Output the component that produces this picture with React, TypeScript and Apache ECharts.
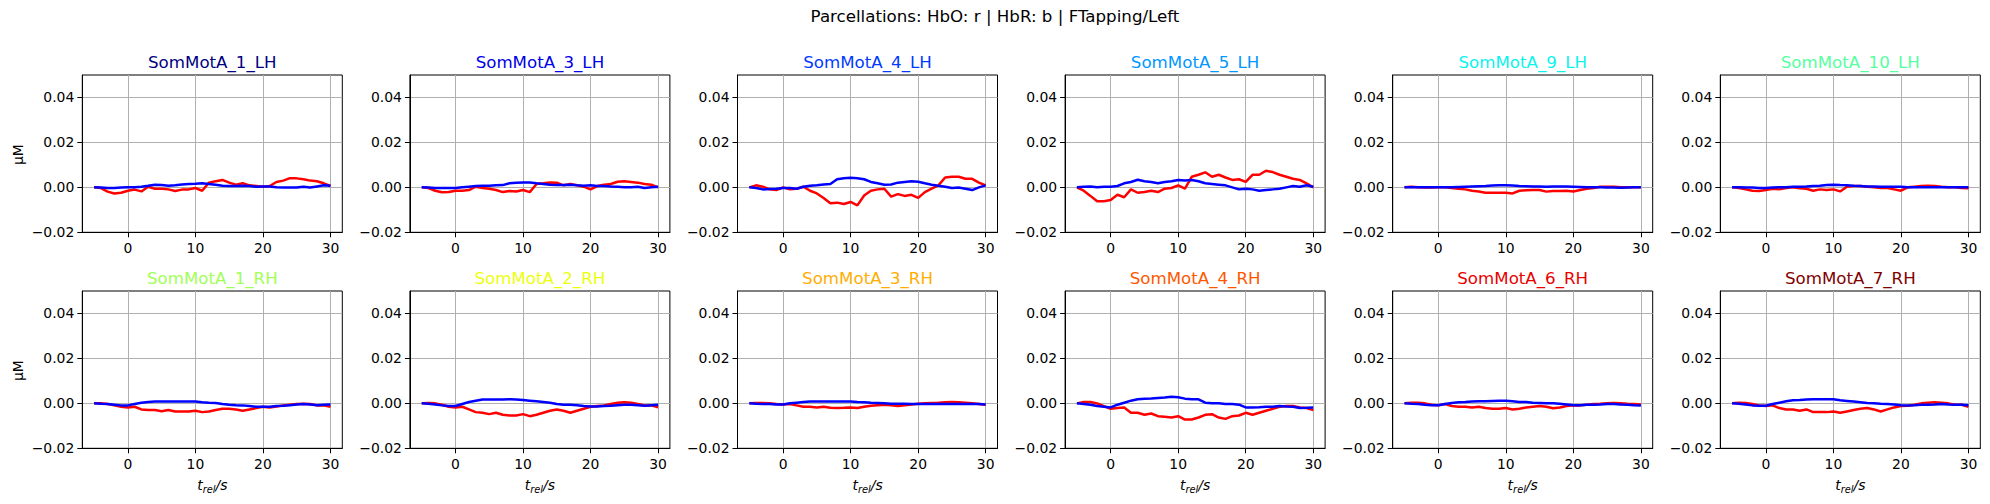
import React, { useEffect, useRef } from 'react';
import * as echarts from 'echarts';

// ---------------- data ----------------
const SUPTITLE = 'Parcellations: HbO: r | HbR: b | FTapping/Left';
const PANEL_NAMES = [
  'SomMotA_1_LH', 'SomMotA_3_LH', 'SomMotA_4_LH', 'SomMotA_5_LH', 'SomMotA_9_LH', 'SomMotA_10_LH',
  'SomMotA_1_RH', 'SomMotA_2_RH', 'SomMotA_3_RH', 'SomMotA_4_RH', 'SomMotA_6_RH', 'SomMotA_7_RH',
];
const PANEL_COLORS = [
  '#000080', '#0000e9', '#003aff', '#0097ff', '#0bf3ec', '#56ffa1',
  '#a1ff56', '#ecff0b', '#ffad00', '#ff5700', '#e90100', '#800000',
];
const TIME = [-5, -4, -3, -2, -1, 0, 1, 2, 3, 4, 5, 6, 7, 8, 9, 10, 11, 12, 13, 14, 15, 16, 17, 18, 19, 20, 21, 22, 23, 24, 25, 26, 27, 28, 29, 30];
const X_TICKS = [0, 10, 20, 30];
const Y_TICKS = [-0.02, 0, 0.02, 0.04];
const Y_LABEL = 'μM';

// HbO (red) and HbR (blue), in μM
const HBO_LH1 = [0, -0.0003, -0.0019, -0.0027, -0.0024, -0.0015, -0.001, -0.0018, 0.0003, -0.0006, -0.0006, -0.0009, -0.0016, -0.001, -0.0009, -0.0003, -0.0015, 0.0021, 0.0027, 0.0033, 0.0021, 0.0012, 0.0018, 0.0009, 0.0006, 0.0003, 0.0006, 0.0024, 0.003, 0.0041, 0.004, 0.0036, 0.003, 0.0027, 0.0018, 0.0006];
const HBR_LH1 = [0, -0.0001, -0.0003, -0.0003, -0.0001, 0, 0.0001, 0.0003, 0.0007, 0.0012, 0.001, 0.0007, 0.0009, 0.0013, 0.0015, 0.0016, 0.0018, 0.0015, 0.0012, 0.0007, 0.0006, 0.0006, 0.0007, 0.0006, 0.0003, 0.0004, 0.0004, 0, -0.0001, -0.0001, -0.0001, 0.0003, -0.0001, 0.0004, 0.0009, 0.0007];
const HBO_LH3 = [0, -0.0003, -0.0015, -0.0022, -0.0021, -0.0015, -0.0015, -0.0012, 0.0003, -0.0003, -0.0006, -0.0012, -0.0021, -0.0016, -0.0018, -0.0012, -0.0021, 0.0015, 0.0018, 0.0022, 0.0021, 0.0009, 0.0015, 0.0009, 0.0003, -0.0009, 0.0006, 0.0012, 0.0015, 0.0025, 0.0027, 0.0024, 0.0021, 0.0015, 0.0012, 0];
const HBR_LH3 = [0, -0.0001, -0.0003, -0.0003, -0.0003, -0.0003, 0, 0.0003, 0.0006, 0.0007, 0.0007, 0.0009, 0.001, 0.0018, 0.0021, 0.0022, 0.0022, 0.0018, 0.0015, 0.0012, 0.001, 0.001, 0.0012, 0.0009, 0.0007, 0.0009, 0.0006, 0.0006, 0.0004, 0.0003, 0.0001, 0.0001, 0.0003, -0.0003, 0, 0.0003];
const HBO_LH4 = [0, 0.0009, 0.0003, -0.0009, -0.0012, 0, -0.0009, -0.0006, 0.0003, -0.0015, -0.0027, -0.0047, -0.0071, -0.0068, -0.0074, -0.0065, -0.008, -0.0036, -0.0015, -0.0009, -0.0006, -0.0041, -0.003, -0.0038, -0.0033, -0.0047, -0.0021, -0.0006, 0.0009, 0.0044, 0.0047, 0.0047, 0.0038, 0.0038, 0.0021, 0.0009];
const HBR_LH4 = [0, -0.0003, -0.0009, -0.0007, -0.0006, -0.0003, -0.0003, -0.0006, 0.0003, 0.0007, 0.0009, 0.0013, 0.0015, 0.0036, 0.0041, 0.0043, 0.0041, 0.0036, 0.0024, 0.0018, 0.0012, 0.0013, 0.0021, 0.0024, 0.0027, 0.0025, 0.0018, 0.0012, 0.0007, 0.0003, -0.0003, -0.0001, -0.0006, -0.0012, 0, 0.0009];
const HBO_LH5 = [0, -0.0015, -0.0038, -0.0062, -0.0062, -0.0056, -0.0033, -0.0044, -0.0009, -0.0024, -0.0021, -0.0015, -0.0021, -0.0006, -0.0003, 0.0009, -0.0006, 0.0047, 0.0056, 0.0067, 0.0047, 0.0056, 0.0044, 0.0033, 0.0036, 0.0024, 0.0056, 0.0056, 0.0074, 0.0068, 0.0056, 0.0047, 0.0038, 0.0033, 0.0018, 0];
const HBR_LH5 = [0, 0.0003, 0.0004, 0.0001, 0.0003, 0.0003, 0.0006, 0.0018, 0.0024, 0.0034, 0.0027, 0.0024, 0.0018, 0.0024, 0.0027, 0.0033, 0.003, 0.0033, 0.0027, 0.0018, 0.0015, 0.0012, 0.0009, 0, -0.0009, -0.0006, -0.0009, -0.0015, -0.0012, -0.0009, -0.0006, 0, 0.0006, 0.0003, 0.0009, 0.0003];
const HBO_LH9 = [0, 0.0003, 0, -0.0001, -0.0001, 0, 0, -0.0003, -0.0006, -0.0009, -0.0015, -0.0018, -0.0024, -0.0024, -0.0024, -0.0024, -0.0027, -0.0015, -0.0013, -0.0012, -0.0012, -0.0019, -0.0016, -0.0016, -0.0015, -0.0018, -0.0012, -0.0006, -0.0003, 0.0003, 0.0003, 0.0003, 0, 0, 0, 0];
const HBR_LH9 = [0, 0, 0, 0, 0, 0, 0.0001, 0.0001, 0.0002, 0.0003, 0.0004, 0.0005, 0.0006, 0.0008, 0.0009, 0.0009, 0.0008, 0.0006, 0.0005, 0.0004, 0.0004, 0.0003, 0.0004, 0.0004, 0.0004, 0.0003, 0.0002, 0.0001, 0, 0, -0.0001, -0.0001, -0.0002, -0.0001, 0, 0];
const HBO_LH10 = [0, -0.0003, -0.0009, -0.0015, -0.0016, -0.0012, -0.0006, -0.0009, -0.0003, 0, -0.0004, -0.0006, -0.0015, -0.0009, -0.0012, -0.0009, -0.0018, 0.0003, 0.0006, 0.0006, 0.0003, 0, -0.0003, -0.0003, -0.0009, -0.0015, 0, 0.0003, 0.0006, 0.0007, 0.0006, 0.0003, 0.0001, 0, -0.0003, -0.0004];
const HBR_LH10 = [0, 0, -0.0001, -0.0001, -0.0003, -0.0003, -0.0001, 0, 0.0001, 0.0003, 0.0003, 0.0004, 0.0006, 0.0007, 0.001, 0.0012, 0.001, 0.0009, 0.0007, 0.0006, 0.0004, 0.0004, 0.0003, 0.0003, 0.0003, 0.0003, 0.0001, 0.0001, 0, 0, 0, 0, 0, 0, 0, 0];
const HBO_RH1 = [0, 0, -0.0003, -0.0009, -0.0015, -0.0018, -0.0015, -0.0027, -0.003, -0.003, -0.0035, -0.003, -0.0036, -0.0036, -0.0036, -0.0033, -0.0039, -0.0036, -0.003, -0.0024, -0.0024, -0.0027, -0.0033, -0.0027, -0.0021, -0.0015, -0.0018, -0.0014, -0.0009, -0.0006, -0.0003, -0.0002, -0.0003, -0.0009, -0.0009, -0.0015];
const HBR_RH1 = [0, -0.0002, -0.0003, -0.0006, -0.0009, -0.0009, -0.0003, 0.0003, 0.0006, 0.0008, 0.0008, 0.0008, 0.0008, 0.0008, 0.0008, 0.0008, 0.0005, 0.0003, 0.0002, -0.0003, -0.0006, -0.0008, -0.0009, -0.0012, -0.0015, -0.0015, -0.0015, -0.0012, -0.0011, -0.0008, -0.0005, -0.0003, -0.0005, -0.0008, -0.0006, -0.0005];
const HBO_RH2 = [0, 0.0002, 0, -0.0006, -0.0015, -0.0018, -0.0015, -0.0027, -0.0039, -0.0042, -0.0048, -0.0042, -0.0051, -0.0054, -0.0054, -0.0048, -0.0057, -0.0051, -0.0042, -0.0033, -0.0027, -0.0033, -0.0042, -0.0033, -0.0024, -0.0015, -0.0012, -0.0009, -0.0003, 0.0003, 0.0005, 0.0003, -0.0003, -0.0009, -0.0009, -0.0018];
const HBR_RH2 = [0, -0.0002, -0.0005, -0.0009, -0.0012, -0.0012, -0.0003, 0.0006, 0.0012, 0.0017, 0.0017, 0.0017, 0.0017, 0.0018, 0.0017, 0.0015, 0.0012, 0.0009, 0.0006, 0.0003, -0.0003, -0.0006, -0.0006, -0.0008, -0.0012, -0.0014, -0.0014, -0.0012, -0.0011, -0.0008, -0.0006, -0.0006, -0.0008, -0.0011, -0.0008, -0.0006];
const HBO_RH3 = [0, 0.0002, 0.0002, 0, -0.0003, -0.0005, -0.0003, -0.0009, -0.0015, -0.0015, -0.0018, -0.0015, -0.002, -0.0021, -0.002, -0.0018, -0.0021, -0.0015, -0.0011, -0.0008, -0.0006, -0.0009, -0.0012, -0.0009, -0.0005, -0.0002, 0, 0.0002, 0.0003, 0.0005, 0.0006, 0.0005, 0.0003, 0, -0.0003, -0.0006];
const HBR_RH3 = [0, -0.0002, -0.0003, -0.0003, -0.0005, -0.0005, 0, 0.0003, 0.0006, 0.0008, 0.0008, 0.0008, 0.0008, 0.0008, 0.0008, 0.0008, 0.0006, 0.0005, 0.0003, 0.0002, 0, -0.0002, -0.0002, -0.0002, -0.0003, -0.0003, -0.0003, -0.0003, -0.0003, -0.0003, -0.0003, -0.0003, -0.0003, -0.0003, -0.0003, -0.0005];
const HBO_RH4 = [0, 0.0006, 0.0006, 0, -0.0012, -0.0024, -0.0021, -0.0018, -0.0042, -0.0042, -0.0051, -0.0045, -0.0057, -0.006, -0.0063, -0.0057, -0.0072, -0.0072, -0.0063, -0.0051, -0.0048, -0.0063, -0.0069, -0.0057, -0.0054, -0.0042, -0.0051, -0.0042, -0.0033, -0.0024, -0.0015, -0.0012, -0.0012, -0.0018, -0.0021, -0.003];
const HBR_RH4 = [0, -0.0003, -0.0006, -0.0012, -0.0015, -0.0018, -0.0006, 0.0003, 0.0012, 0.0018, 0.0021, 0.0022, 0.0024, 0.0026, 0.0029, 0.0027, 0.0021, 0.0018, 0.0018, 0.0003, 0, 0, -0.0003, -0.0003, -0.0006, -0.0018, -0.0018, -0.0017, -0.0015, -0.0015, -0.0012, -0.0014, -0.0015, -0.0021, -0.002, -0.0018];
const HBO_RH6 = [0, 0.0003, 0.0003, 0, -0.0006, -0.0009, -0.0003, -0.0012, -0.0015, -0.0015, -0.0018, -0.0015, -0.0021, -0.0024, -0.0024, -0.0021, -0.0027, -0.0024, -0.0018, -0.0015, -0.0012, -0.0015, -0.0022, -0.0018, -0.0012, -0.0009, -0.0009, -0.0006, -0.0003, -0.0002, 0, 0.0002, 0, -0.0002, -0.0003, -0.0005];
const HBR_RH6 = [0, -0.0002, -0.0003, -0.0006, -0.0008, -0.0008, -0.0003, 0.0002, 0.0005, 0.0006, 0.0008, 0.0009, 0.0009, 0.0011, 0.0012, 0.0012, 0.0009, 0.0006, 0.0006, 0.0003, 0.0002, 0, 0, -0.0002, -0.0005, -0.0008, -0.0008, -0.0006, -0.0006, -0.0005, -0.0003, -0.0003, -0.0005, -0.0006, -0.0008, -0.0009];
const HBO_RH7 = [0, 0.0003, 0.0002, -0.0003, -0.0009, -0.0012, -0.0009, -0.0021, -0.0027, -0.0027, -0.0033, -0.0027, -0.0039, -0.0039, -0.0039, -0.0036, -0.0042, -0.0036, -0.003, -0.0024, -0.0021, -0.0027, -0.0036, -0.0027, -0.0018, -0.0012, -0.0011, -0.0006, 0, 0.0003, 0.0005, 0.0003, 0, -0.0006, -0.0006, -0.0015];
const HBR_RH7 = [0, -0.0002, -0.0005, -0.0009, -0.0011, -0.0011, -0.0003, 0.0003, 0.0009, 0.0014, 0.0015, 0.0017, 0.0018, 0.0018, 0.0018, 0.0018, 0.0014, 0.0011, 0.0008, 0.0005, 0.0002, 0, -0.0002, -0.0003, -0.0005, -0.0008, -0.0009, -0.0008, -0.0006, -0.0006, -0.0005, -0.0003, -0.0005, -0.0006, -0.0006, -0.0008];

const HBO = [HBO_LH1, HBO_LH3, HBO_LH4, HBO_LH5, HBO_LH9, HBO_LH10, HBO_RH1, HBO_RH2, HBO_RH3, HBO_RH4, HBO_RH6, HBO_RH7];
const HBR = [HBR_LH1, HBR_LH3, HBR_LH4, HBR_LH5, HBR_LH9, HBR_LH10, HBR_RH1, HBR_RH2, HBR_RH3, HBR_RH4, HBR_RH6, HBR_RH7];

// ---------------- layout ----------------
const W = 1990;
const H = 504;
const AX_LEFT0 = 82.3;
const AX_STEP = 327.6;
const AX_W = 260;
const AX_H = 157.3;
const ROW_TOP = [75, 291];
const FONT = 'DejaVu Sans';
const TICK_FS = 13.9;
const TITLE_FS = 16.67;

const fmtY = (v: number) => {
  const s = Math.abs(v).toFixed(2);
  return v < -1e-9 ? '\u2212' + s : s;
};

export default function App() {
  const ref = useRef<HTMLDivElement>(null);

  useEffect(() => {
    if (!ref.current) return;
    const chart = echarts.init(ref.current, undefined, { renderer: 'svg' });

    const grids: any[] = [];
    const xAxes: any[] = [];
    const yAxes: any[] = [];
    const series: any[] = [];
    const graphics: any[] = [];

    graphics.push({
      type: 'text', x: W / 2, y: 16.5,
      style: { text: SUPTITLE, fill: '#000', fontSize: TITLE_FS, fontFamily: FONT, textAlign: 'center', textVerticalAlign: 'middle' },
    });

    PANEL_NAMES.forEach((name, i) => {
      const row = Math.floor(i / 6);
      const col = i % 6;
      const left = AX_LEFT0 + col * AX_STEP;
      const top = ROW_TOP[row];
      const cx = left + AX_W / 2;
      grids.push({ left, top, width: AX_W, height: AX_H, show: true, borderColor: '#000', borderWidth: 1, backgroundColor: 'transparent', containLabel: false });
      xAxes.push({
        type: 'value', gridIndex: i, min: -6.75, max: 31.75,
        axisLine: { show: true, onZero: false, lineStyle: { color: '#000', width: 1 } },
        axisTick: { show: true, length: 5, inside: false, customValues: X_TICKS, lineStyle: { color: '#000', width: 1 } },
        axisLabel: { show: true, customValues: X_TICKS, color: '#000', fontSize: TICK_FS, fontFamily: FONT, margin: 9, formatter: (v: number) => String(Math.round(v)) },
        splitLine: { show: true, lineStyle: { color: '#b0b0b0', width: 1 } },
      });
      yAxes.push({
        type: 'value', gridIndex: i, min: -0.02, max: 0.05,
        axisLine: { show: true, onZero: false, lineStyle: { color: '#000', width: 1 } },
        axisTick: { show: true, length: 5, inside: false, customValues: Y_TICKS, lineStyle: { color: '#000', width: 1 } },
        axisLabel: { show: true, customValues: Y_TICKS, color: '#000', fontSize: TICK_FS, fontFamily: FONT, margin: 8, formatter: fmtY },
        splitLine: { show: true, lineStyle: { color: '#b0b0b0', width: 1 } },
      });
      series.push({
        type: 'line', xAxisIndex: i, yAxisIndex: i, showSymbol: false, symbol: 'none',
        data: TIME.map((t, k) => [t, HBO[i][k]]),
        lineStyle: { color: '#ff0000', width: 2.5 }, itemStyle: { color: '#ff0000' }, silent: true, z: 3,
      });
      series.push({
        type: 'line', xAxisIndex: i, yAxisIndex: i, showSymbol: false, symbol: 'none',
        data: TIME.map((t, k) => [t, HBR[i][k]]),
        lineStyle: { color: '#0000ff', width: 2.5 }, itemStyle: { color: '#0000ff' }, silent: true, z: 4,
      });
      graphics.push({
        type: 'text', x: cx, y: top - 12.3,
        style: { text: name, fill: PANEL_COLORS[i], fontSize: TITLE_FS, fontFamily: FONT, textAlign: 'center', textVerticalAlign: 'middle' },
      });
      if (col === 0) {
        graphics.push({
          type: 'text', x: 18, y: top + AX_H / 2 + 1, rotation: Math.PI / 2,
          style: { text: Y_LABEL, fill: '#000', fontSize: TICK_FS, fontFamily: FONT, textAlign: 'center', textVerticalAlign: 'middle' },
        });
      }
      if (row === 1) {
        const y0 = 485.2;
        graphics.push({
          type: 'text', x: cx - 15.1, y: y0,
          style: { text: 't', fill: '#000', fontSize: TICK_FS, fontStyle: 'italic', fontFamily: FONT, textAlign: 'left', textVerticalAlign: 'middle' },
        });
        graphics.push({
          type: 'text', x: cx - 9.6, y: y0 + 4.4,
          style: { text: 'rel', fill: '#000', fontSize: 9.8, fontStyle: 'italic', fontFamily: FONT, textAlign: 'left', textVerticalAlign: 'middle' },
        });
        graphics.push({
          type: 'text', x: cx + 3.2, y: y0,
          style: { text: '/s', fill: '#000', fontSize: TICK_FS, fontStyle: 'italic', fontFamily: FONT, textAlign: 'left', textVerticalAlign: 'middle' },
        });
      }
    });

    chart.setOption({
      animation: false,
      backgroundColor: '#ffffff',
      grid: grids,
      xAxis: xAxes,
      yAxis: yAxes,
      series,
      graphic: graphics,
    });

    return () => chart.dispose();
  }, []);

  return <div ref={ref} style={{ position: 'fixed', left: 0, top: 0, width: W, height: H, background: '#fff' }} />;
}
